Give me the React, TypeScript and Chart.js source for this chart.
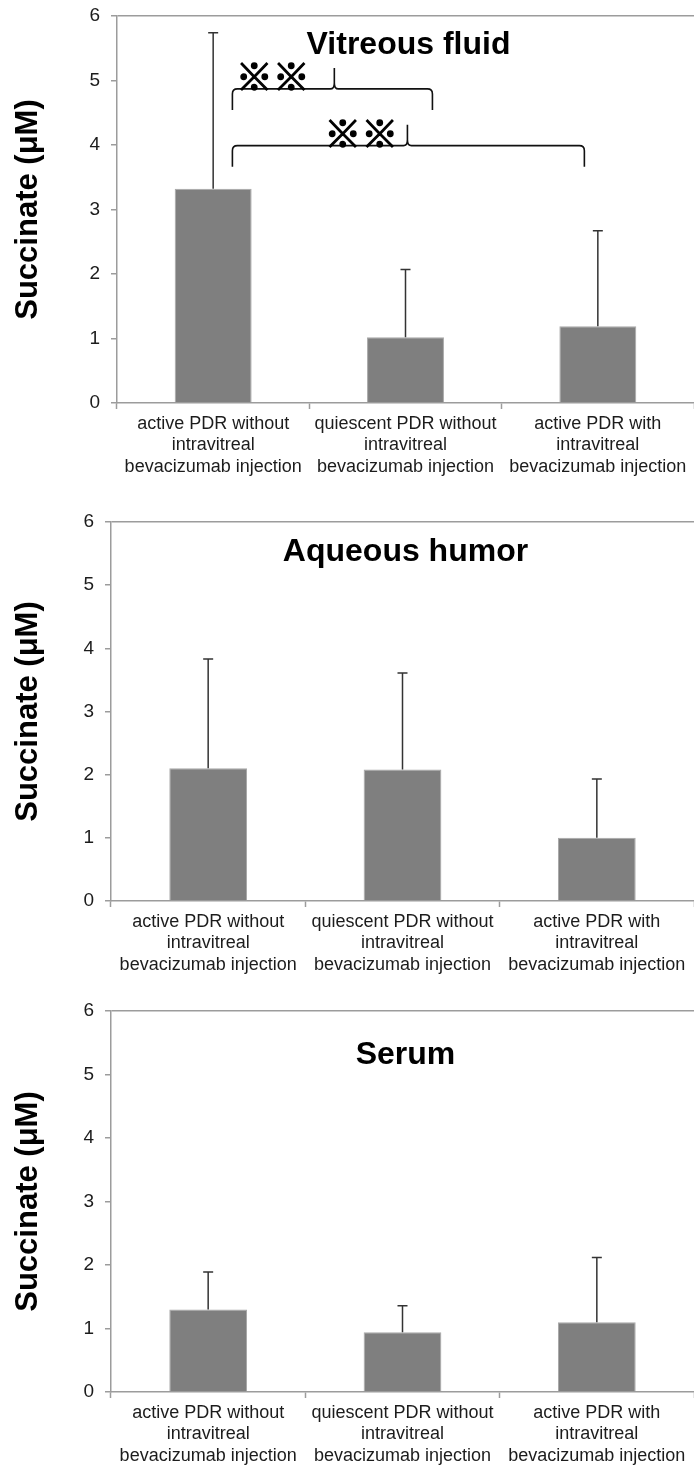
import React, { useEffect, useRef } from 'react';
import { Chart, registerables } from 'chart.js';

Chart.register(...registerables);

// ---------- data ----------
const categories: string[][] = [
  ['active PDR without', 'intravitreal', 'bevacizumab injection'],
  ['quiescent PDR without', 'intravitreal', 'bevacizumab injection'],
  ['active PDR with', 'intravitreal', 'bevacizumab injection'],
];

const vitreousMeans = [3.32, 1.02, 1.19];
const vitreousSD = [2.42, 1.05, 1.48];

const aqueousMeans = [2.1, 2.08, 1.0];
const aqueousSD = [1.73, 1.53, 0.93];

const serumMeans = [1.3, 0.94, 1.1];
const serumSD = [0.59, 0.42, 1.02];

const yMin = 0;
const yMax = 6;
const yStep = 1;
const yAxisTitle = 'Succinate (μM)';

const panelTitles = ['Vitreous fluid', 'Aqueous humor', 'Serum'];

// significance brackets (vitreous panel), x in category-index units, y in μM
const bracketLabels = ['※※', '※※'];
const bracketFrom = [0.1, 0.1];
const bracketTo = [1.14, 1.93];
const bracketPeak = [0.63, 1.01];
const bracketLevel = [4.87, 3.99];
const bracketLabelX = [0.31, 0.77];

// ---------- style ----------
const FONT = '"Liberation Sans", Arial, Helvetica, sans-serif';
const AXIS = '#9c9c9c';
const TEXT = '#1c1c1c';
const BAR = '#7f7f7f';

const extrasPlugin = {
  id: 'panelExtras',
  afterDatasetsDraw(chart: any, _args: any, opts: any) {
    const { ctx, chartArea, scales } = chart;
    const xs = scales.x;
    const ys = scales.y;
    const meta = chart.getDatasetMeta(0);
    const means = chart.data.datasets[0].data as number[];
    const sd: number[] = opts.sd || [];
    ctx.save();
    // error bars (upper only)
    ctx.strokeStyle = '#333333';
    ctx.lineWidth = 1.5;
    meta.data.forEach((bar: any, i: number) => {
      const top = ys.getPixelForValue(means[i] + sd[i]);
      ctx.beginPath();
      ctx.moveTo(bar.x, bar.y);
      ctx.lineTo(bar.x, top);
      ctx.moveTo(bar.x - 5, top);
      ctx.lineTo(bar.x + 5, top);
      ctx.stroke();
    });
    // panel title inside plot area
    ctx.fillStyle = '#000';
    ctx.font = 'bold 32px ' + FONT;
    ctx.textAlign = 'center';
    ctx.textBaseline = 'middle';
    ctx.fillText(opts.title, (chartArea.left + chartArea.right) / 2 + 3, chartArea.top + opts.titleOffset);
    // brackets
    if (opts.brackets) {
      const b = opts.brackets;
      for (let i = 0; i < b.labels.length; i++) {
        const x0 = xs.getPixelForValue(b.from[i]);
        const x1 = xs.getPixelForValue(b.to[i]);
        const xp = xs.getPixelForValue(b.peak[i]);
        const yl = ys.getPixelForValue(b.level[i]);
        const drop = 21;
        const ph = 21;
        const r = 5;
        ctx.strokeStyle = '#111';
        ctx.lineWidth = 1.6;
        ctx.beginPath();
        ctx.moveTo(x0, yl + drop);
        ctx.lineTo(x0, yl + r);
        ctx.quadraticCurveTo(x0, yl, x0 + r, yl);
        ctx.lineTo(xp - 4, yl);
        ctx.quadraticCurveTo(xp, yl, xp, yl - 6);
        ctx.lineTo(xp, yl - ph);
        ctx.moveTo(xp, yl - 6);
        ctx.quadraticCurveTo(xp, yl, xp + 4, yl);
        ctx.lineTo(x1 - r, yl);
        ctx.quadraticCurveTo(x1, yl, x1, yl + r);
        ctx.lineTo(x1, yl + drop);
        ctx.stroke();
        ctx.fillStyle = '#000';
        ctx.strokeStyle = '#000';
        ctx.lineWidth = 1.3;
        ctx.font = 'bold 37px "Noto Sans CJK JP", sans-serif';
        ctx.textAlign = 'center';
        ctx.textBaseline = 'middle';
        const lx = xs.getPixelForValue(b.labelX[i]);
        ctx.fillText(b.labels[i], lx, yl - 12);
        ctx.strokeText(b.labels[i], lx, yl - 12);
      }
    }
    ctx.restore();
  },
};

interface PanelProps {
  height: number;
  means: number[];
  sd: number[];
  title: string;
  titleOffset: number;
  axisX: number;
  padTop: number;
  padBottom: number;
  brackets?: any;
}

function Panel(p: PanelProps) {
  const ref = useRef<HTMLCanvasElement | null>(null);
  useEffect(() => {
    if (!ref.current) return;
    const chart = new Chart(ref.current, {
      type: 'bar',
      data: {
        labels: categories,
        datasets: [
          {
            data: p.means,
            backgroundColor: BAR,
            borderColor: '#a8a8a8',
            borderWidth: 1,
            barPercentage: 0.4,
            categoryPercentage: 1,
          },
        ],
      },
      plugins: [extrasPlugin],
      options: {
        animation: false,
        responsive: true,
        maintainAspectRatio: false,
        layout: { padding: { top: p.padTop, bottom: p.padBottom, left: 0, right: 0 } },
        plugins: {
          legend: { display: false },
          tooltip: { enabled: false },
          title: { display: false },
          panelExtras: { sd: p.sd, title: p.title, titleOffset: p.titleOffset, brackets: p.brackets },
        } as any,
        scales: {
          x: {
            type: 'category',
            offset: true,
            grid: {
              display: true,
              drawOnChartArea: false,
              offset: true,
              tickLength: 6,
              tickColor: AXIS,
              tickWidth: 1.5,
            },
            border: { color: AXIS, width: 1.5 },
            ticks: {
              color: TEXT,
              font: { family: FONT, size: 18, lineHeight: 1.2 },
              padding: 4,
              maxRotation: 0,
              autoSkip: false,
            },
            afterFit: (s: any) => {
              s.height = 74;
              s.paddingLeft = 0;
              s.paddingRight = 0;
            },
          },
          y: {
            min: yMin,
            max: yMax,
            ticks: {
              stepSize: yStep,
              color: TEXT,
              font: { family: FONT, size: 19 },
              padding: 11,
            },
            grid: {
              color: (c: any) => (c.tick && c.tick.value === yMax ? AXIS : 'rgba(0,0,0,0)'),
              tickColor: AXIS,
              tickLength: 6,
              lineWidth: 1.5,
            },
            border: { color: AXIS, width: 1.5 },
            title: {
              display: true,
              text: yAxisTitle,
              color: '#000',
              font: { family: FONT, size: 31, weight: 'bold', lineHeight: 1.2 },
              padding: { top: 10, bottom: 0 },
            },
            afterFit: (s: any) => {
              s.width = p.axisX;
              s.paddingTop = 0;
              s.paddingBottom = 0;
            },
          },
        },
      } as any,
    });
    return () => chart.destroy();
  }, []);
  return (
    <div style={{ position: 'relative', width: 694, height: p.height }}>
      <canvas ref={ref} />
    </div>
  );
}

export default function App() {
  useEffect(() => {
    document.body.style.margin = '0';
  }, []);
  const brackets = {
    labels: bracketLabels,
    from: bracketFrom,
    to: bracketTo,
    peak: bracketPeak,
    level: bracketLevel,
    labelX: bracketLabelX,
  };
  return (
    <div style={{ width: 694, background: '#fff' }}>
      <Panel height={490} means={vitreousMeans} sd={vitreousSD} title={panelTitles[0]} titleOffset={29} axisX={117} padTop={16} padBottom={13} brackets={brackets} />
      <Panel height={495} means={aqueousMeans} sd={aqueousSD} title={panelTitles[1]} titleOffset={30} axisX={111} padTop={32} padBottom={10} />
      <Panel height={485} means={serumMeans} sd={serumSD} title={panelTitles[2]} titleOffset={44} axisX={111} padTop={26} padBottom={4} />
    </div>
  );
}
